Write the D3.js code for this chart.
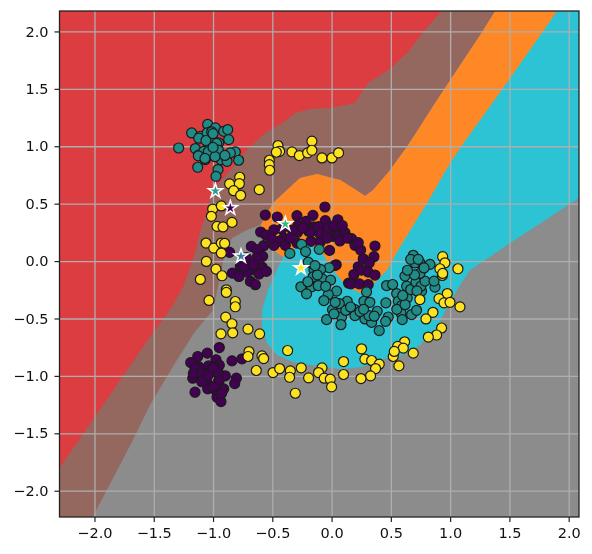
<!DOCTYPE html>
<html>
<head>
<meta charset="utf-8">
<script src="https://cdn.jsdelivr.net/npm/d3@7"></script>
<style>
	body { margin: 0; background: #fff; }
	text { font-family: "DejaVu Sans", sans-serif; }
	svg { filter: blur(0.35px); }
</style>
</head>
<body>
<div id="chart-area"></div>
<script>
const FWIDTH = 592,
	FHEIGHT = 554;
const MARGIN = { LEFT: 59.5, RIGHT: 13, TOP: 11, BOTTOM: 37 };
const WIDTH = FWIDTH - (MARGIN.LEFT + MARGIN.RIGHT);
const HEIGHT = FHEIGHT - (MARGIN.TOP + MARGIN.BOTTOM);

const xDomain = [-2.295, 2.087];
const yDomain = [-2.229, 2.178];
const tickValues = [-2, -1.5, -1, -0.5, 0, 0.5, 1, 1.5, 2];

// decision regions, boundaries in data units
const brownRegion = [
	[-2.295, 2.178], [1.38, 2.178], [1.27, 1.995], [0.89, 1.402], [0.646, 1.01], [0.494, 0.793],
	[0.35, 0.618], [0.283, 0.566], [0.181, 0.636], [0.072, 0.706], [0.004, 0.723], [-0.122, 0.758],
	[-0.266, 0.723], [-0.376, 0.618], [-0.494, 0.505], [-0.561, 0.383], [-0.603, 0.314], [-0.713, 0.27],
	[-0.84, 0.2], [-0.899, 0.07], [-0.941, -0.139], [-1.0, -0.427], [-1.16, -0.627], [-1.304, -0.862],
	[-1.532, -1.254], [-1.675, -1.559], [-2.015, -2.229], [-2.295, -2.229],
];
const orangeRegion = [
	[1.38, 2.178], [1.27, 1.995], [0.89, 1.402], [0.646, 1.01], [0.494, 0.793], [0.35, 0.618],
	[0.283, 0.566], [0.181, 0.636], [0.072, 0.706], [0.004, 0.723], [-0.122, 0.758], [-0.266, 0.723],
	[-0.376, 0.618], [-0.494, 0.505], [-0.561, 0.383], [-0.595, 0.314], [-0.595, 0.244], [-0.494, 0.096],
	[-0.409, 0.035], [0.241, -0.35], [0.6, 0], [1.2, 1], [1.903, 2.178],
];
const cyanRegion = [
	[2.087, 2.178], [2.087, 0.549], [1.996, 0.488], [1.506, 0.157], [1.295, 0.009], [1.169, -0.078],
	[1.084, -0.209], [0.975, -0.401], [0.89, -0.575], [0.747, -0.732], [0.603, -0.819], [0.468, -0.845],
	[0.257, -0.923], [0.072, -0.941], [-0.181, -0.906], [-0.325, -0.88], [-0.46, -0.819], [-0.544, -0.714],
	[-0.586, -0.575], [-0.586, -0.427], [-0.536, -0.253], [-0.451, -0.052], [-0.409, 0.035], [-0.291, 0.122],
	[-0.198, 0.157], [-0.08, 0.07], [0.013, -0.078], [0.114, -0.209], [0.241, -0.279], [0.35, -0.209],
	[0.468, -0.078], [0.561, 0.096], [0.654, 0.253], [0.806, 0.505], [0.975, 0.81], [1.084, 0.984],
	[1.253, 1.228], [1.495, 1.577], [1.903, 2.178],
];
const redRegion = [
	[-2.295, 2.178], [-2.295, -1.803], [-2.131, -1.559], [-1.532, -0.662], [-1.363, -0.427], [-1.253, -0.226],
	[-1.169, 0.009], [-1.11, 0.244], [-1.042, 0.47], [-1.0, 0.618], [-0.831, 0.819], [-0.713, 0.967],
	[-0.561, 1.115], [-0.376, 1.228], [-0.308, 1.289], [-0.181, 1.324], [-0.013, 1.333], [0.198, 1.376],
	[0.308, 1.551], [0.494, 1.672], [0.662, 1.838], [0.764, 1.986], [0.932, 2.178],
];

const purplePoints = [
	[-0.947, -0.753], [-1.048, -0.802], [-1.129, -0.831], [-1.188, -0.884], [-0.84, -0.869], [-0.756, -0.852],
	[-0.975, -0.86], [-0.947, -0.907], [-1.121, -0.919], [-1.037, -0.913], [-1.149, -0.962], [-1.101, -0.971],
	[-0.994, -0.962], [-0.989, -0.924], [-0.896, -1.0], [-1.171, -1.02], [-1.093, -1.012], [-1.051, -1.055],
	[-0.952, -1.041], [-0.803, -1.02], [-0.817, -1.067], [-1.045, -1.113], [-0.91, -1.113], [-1.152, -1.142],
	[-0.958, -1.157], [-0.966, -1.186], [-0.933, -1.224], [-0.98, -1.122], [-1.05, -0.977],
	[-1.152, -0.935], [-1.166, -0.979], [-1.095, -0.979], [-1.04, -0.993], [-0.955, -0.973], [-1.095, -1.051],
	[-0.949, -1.043], [-0.997, -1.095], [-0.927, -1.152], [-1.0, -0.93],
	[-0.056, 0.471], [-0.559, 0.401], [-0.458, 0.384], [-0.292, 0.395], [-0.157, 0.398], [-0.053, 0.352],
	[0.053, 0.36], [-0.284, 0.311], [-0.216, 0.346], [-0.152, 0.297], [-0.486, 0.273], [-0.598, 0.253],
	[-0.553, 0.227], [-0.404, 0.2], [-0.447, 0.172], [-0.287, 0.25], [-0.194, 0.259], [-0.096, 0.166],
	[0.011, 0.215], [0.059, 0.273], [0.101, 0.244], [-0.573, 0.134], [-0.486, 0.137], [-0.39, 0.137],
	[-0.677, 0.128], [-0.629, 0.099], [-0.86, 0.076], [-0.581, 0.041], [-0.77, -0.047], [-0.587, -0.052],
	[-0.671, -0.076], [-0.713, -0.096], [-0.837, -0.105], [-0.781, -0.134], [-0.612, -0.113], [-0.685, -0.177],
	[-0.643, -0.206], [-0.292, 0.157], [-0.174, 0.172], [-0.017, 0.093], [0.039, -0.032], [0.143, -0.192],
	[-0.177, 0.254], [0.028, -0.038], [0.056, 0.219], [0.169, 0.195], [0.197, 0.137], [0.245, 0.096],
	[0.366, 0.131], [0.267, 0.02], [0.357, 0.038], [0.318, -0.015], [0.225, -0.05], [0.188, -0.117],
	[0.253, -0.079], [0.309, -0.096], [0.366, -0.122], [0.163, -0.198], [0.233, -0.198], [0.309, -0.204],
	[0.113, 0.248], [0.07, 0.175], [0.225, 0.16],
	[-0.11, 0.3], [-0.03, 0.29], [0.02, 0.31], [0.09, 0.31], [-0.24, 0.29], [-0.33, 0.27], [-0.42, 0.28],
	[-0.35, 0.2], [-0.1, 0.24], [-0.04, 0.2], [0.13, 0.2], [-0.51, 0.2], [-0.63, 0.03], [-0.72, 0.03],
	[-0.66, -0.03], [-0.74, -0.05], [-0.55, -0.09],
];

const tealPoints = [
	[-1.29, 0.985], [-1.18, 1.116], [-1.107, 1.087], [-1.045, 1.19], [-1.014, 1.13], [-0.98, 1.16],
	[-0.91, 1.13], [-0.876, 1.145], [-0.868, 1.058], [-0.952, 1.03], [-1.008, 1.073], [-1.037, 1.0],
	[-0.966, 0.956], [-1.037, 0.948], [-1.149, 0.98], [-1.121, 0.922], [-1.079, 0.956], [-1.065, 0.884],
	[-0.933, 0.884], [-0.882, 0.869], [-0.812, 0.951], [-0.784, 0.878], [-1.129, 0.817], [-0.958, 0.797],
	[-0.975, 0.738], [-0.854, 0.942], [-1.05, 1.116], [-0.994, 1.03],
	[-1.011, 1.126], [-0.969, 1.025], [-1.04, 0.952], [-0.955, 0.967], [-1.124, 0.917], [-1.068, 0.894],
	[-0.983, 0.909], [-1.12, 1.07], [-1.06, 1.05], [-1.0, 0.99], [-0.9, 0.92], [-1.0, 1.11],
	[-0.253, 0.146], [-0.219, 0.082], [-0.352, 0.067], [-0.104, 0.102], [-0.02, -0.058], [-0.149, -0.073],
	[-0.197, -0.009], [-0.093, -0.073], [-0.155, -0.137], [-0.079, -0.155], [-0.008, -0.166], [-0.259, -0.224],
	[-0.169, -0.224], [-0.113, -0.213], [-0.211, -0.286], [0.042, -0.262], [-0.028, -0.292], [-0.065, -0.344],
	[0.008, -0.423], [0.084, -0.408], [0.132, -0.35], [0.065, -0.37], [0.197, -0.423], [0.197, -0.475],
	[0.084, -0.487], [-0.042, -0.51], [0.079, -0.554], [0.281, -0.504], [0.338, -0.534], [0.402, -0.606],
	[0.315, -0.475], [0.385, -0.437], [0.273, -0.35], [0.323, -0.359], [0.295, -0.268], [0.458, -0.364],
	[0.464, -0.213], [0.515, -0.204], [0.549, -0.283], [0.563, -0.35], [0.59, -0.388], [0.585, -0.452],
	[0.478, -0.487], [0.456, -0.525], [0.596, -0.51], [0.675, -0.466], [0.717, -0.429], [0.638, -0.321],
	[0.633, -0.219], [0.667, -0.248], [0.619, -0.131], [0.712, -0.184], [0.759, -0.262], [0.754, -0.219],
	[0.788, -0.175], [0.745, -0.108], [0.872, -0.227], [0.864, -0.175], [0.83, -0.029], [0.745, -0.015],
	[0.703, -0.015], [0.689, 0.05], [0.667, 0.015], [0.731, 0.015],
	[0.03, -0.36], [0.12, -0.43], [0.16, -0.4], [0.24, -0.44], [0.27, -0.42], [0.36, -0.48], [0.02, -0.46],
	[0.55, -0.42], [0.62, -0.38], [0.6, -0.3], [0.7, -0.12], [0.78, -0.06], [0.72, -0.26], [0.64, -0.08],
	[-0.12, -0.12], [-0.2, -0.18], [-0.05, -0.22], [-0.14, -0.04],
];

const yellowPoints = [
	[-0.452, 1.006], [-0.438, 0.956], [-0.466, 0.948], [-0.166, 1.044], [-0.334, 0.951], [-0.272, 0.919],
	[-0.202, 0.942], [-0.166, 0.965], [-0.081, 0.898], [0.003, 0.898], [0.059, 0.942], [-0.525, 0.878],
	[-0.525, 0.84], [-0.522, 0.791], [-0.775, 0.73], [-0.86, 0.672], [-0.778, 0.674], [-0.826, 0.613],
	[-0.767, 0.573], [-0.61, 0.622], [-1.003, 0.453], [-0.93, 0.48], [-1.014, 0.39], [-0.966, 0.302],
	[-0.916, 0.297], [-0.84, 0.337], [-1.059, 0.157], [-0.994, 0.113], [-0.93, 0.157], [-0.902, 0.154],
	[-0.93, 0.07], [-1.056, -0.003], [-0.975, -0.07], [-0.924, -0.128], [-1.107, -0.16], [-0.888, -0.25],
	[-0.888, -0.273], [-1.034, -0.343], [-0.812, -0.352], [-0.812, -0.398],
	[-0.893, -0.488], [-0.84, -0.546], [-0.933, -0.634], [-0.834, -0.625], [-0.705, -0.593], [-0.607, -0.634],
	[-0.371, -0.779], [-0.697, -0.788], [-0.705, -0.831], [-0.587, -0.826], [-0.573, -0.849], [-0.635, -0.953],
	[-0.494, -0.971], [-0.438, -0.936], [-0.348, -0.956], [-0.354, -1.012], [-0.256, -0.93], [-0.194, -1.017],
	[-0.081, -0.93], [-0.11, -0.971], [-0.062, -1.02], [-0.011, -1.029], [0, -1.096], [-0.306, -1.151],
	[0.101, -0.875], [0.101, -0.988],
	[0.937, 0.038], [0.956, -0.015], [1.066, -0.067], [0.914, -0.067], [0.934, -0.125], [0.937, -0.108],
	[0.745, -0.335], [0.976, -0.283], [0.906, -0.327], [0.948, -0.364], [0.999, -0.359], [1.083, -0.399],
	[0.855, -0.446], [0.796, -0.504], [0.928, -0.583], [0.886, -0.644], [0.816, -0.662], [0.616, -0.703],
	[0.557, -0.743], [0.605, -0.758], [0.689, -0.802], [0.52, -0.831], [0.529, -0.787], [0.568, -0.913],
	[0.253, -0.764], [0.281, -0.854], [0.338, -0.866], [0.402, -0.898], [0.371, -0.936], [0.329, -1.0],
	[0.248, -1.023],
];

// the five stars, one per region colour
const starPoints = [
	[-0.98, 0.61], [-0.854, 0.462], [-0.764, 0.041], [-0.39, 0.323], [-0.258, -0.061],
];
const starColors = ["#2a9d8e", "#440154", "#3b7ea1", "#35b779", "#fde725"];

const svg = d3
	.select("#chart-area")
	.append("svg")
	.attr("width", FWIDTH)
	.attr("height", FHEIGHT)
	.style("display", "block");

const g = svg
	.append("g")
	.attr("transform", `translate(${MARGIN.LEFT}, ${MARGIN.TOP})`);

const x = d3.scaleLinear().domain(xDomain).range([0, WIDTH]);
const y = d3.scaleLinear().domain(yDomain).range([HEIGHT, 0]);

svg.append("defs")
	.append("clipPath")
	.attr("id", "plot-clip")
	.append("rect")
	.attr("width", WIDTH)
	.attr("height", HEIGHT);

const regionG = g.append("g").attr("clip-path", "url(#plot-clip)");
regionG
	.append("rect")
	.attr("width", WIDTH)
	.attr("height", HEIGHT)
	.attr("fill", "#8c8c8c");

const regionLine = d3
	.line()
	.x((d) => x(d[0]))
	.y((d) => y(d[1]));

regionG
	.selectAll("path")
	.data([
		{ pts: brownRegion, color: "#95685f" },
		{ pts: orangeRegion, color: "#ff8826" },
		{ pts: cyanRegion, color: "#2cc3d5" },
		{ pts: redRegion, color: "#db3d41" },
	])
	.enter()
	.append("path")
	.attr("d", (d) => regionLine(d.pts) + "Z")
	.attr("fill", (d) => d.color);

const fmt = (d) => d3.format(".1f")(d).replace("-", "\u2212");

// grid lines come from the axes too
const gridX = g
	.append("g")
	.attr("transform", `translate(0, ${HEIGHT})`)
	.call(d3.axisBottom(x).tickValues(tickValues).tickSize(-HEIGHT).tickFormat(""));
const gridY = g
	.append("g")
	.call(d3.axisLeft(y).tickValues(tickValues).tickSize(-WIDTH).tickFormat(""));
[gridX, gridY].forEach((a) => {
	a.select(".domain").remove();
	a.selectAll("line").attr("stroke", "#aeaeae").attr("stroke-width", 1.3);
});

const pointG = g.append("g");
[
	{ pts: purplePoints, color: "#440154" },
	{ pts: tealPoints, color: "#1f8c88" },
	{ pts: yellowPoints, color: "#fde21f" },
].forEach((s) => {
	pointG
		.append("g")
		.selectAll("circle")
		.data(s.pts)
		.enter()
		.append("circle")
		.attr("cx", (d) => x(d[0]))
		.attr("cy", (d) => y(d[1]))
		.attr("r", 5)
		.attr("fill", s.color)
		.attr("stroke", "#1a1a1a")
		.attr("stroke-width", 1.2);
});

g.append("g")
	.selectAll("path")
	.data(starPoints)
	.enter()
	.append("path")
	.attr("transform", (d) => `translate(${x(d[0])}, ${y(d[1])})`)
	.attr("d", d3.symbol().type(d3.symbolStar).size(62))
	.attr("fill", (d, i) => starColors[i])
	.attr("stroke", "#fff")
	.attr("stroke-width", 1.5);

const xAxis = g
	.append("g")
	.attr("transform", `translate(0, ${HEIGHT})`)
	.call(d3.axisBottom(x).tickValues(tickValues).tickSize(5).tickPadding(6).tickFormat(fmt));
const yAxis = g
	.append("g")
	.call(d3.axisLeft(y).tickValues(tickValues).tickSize(5).tickPadding(6).tickFormat(fmt));
[xAxis, yAxis].forEach((a) => {
	a.select(".domain").remove();
	a.selectAll("line").attr("stroke", "#222").attr("stroke-width", 1.2);
	a.selectAll("text")
		.attr("fill", "#111")
		.style("font-family", '"DejaVu Sans", sans-serif')
		.style("font-size", "14.5px");
});

g.append("rect")
	.attr("width", WIDTH)
	.attr("height", HEIGHT)
	.attr("fill", "none")
	.attr("stroke", "#222")
	.attr("stroke-width", 1.3);
</script>
</body>
</html>
